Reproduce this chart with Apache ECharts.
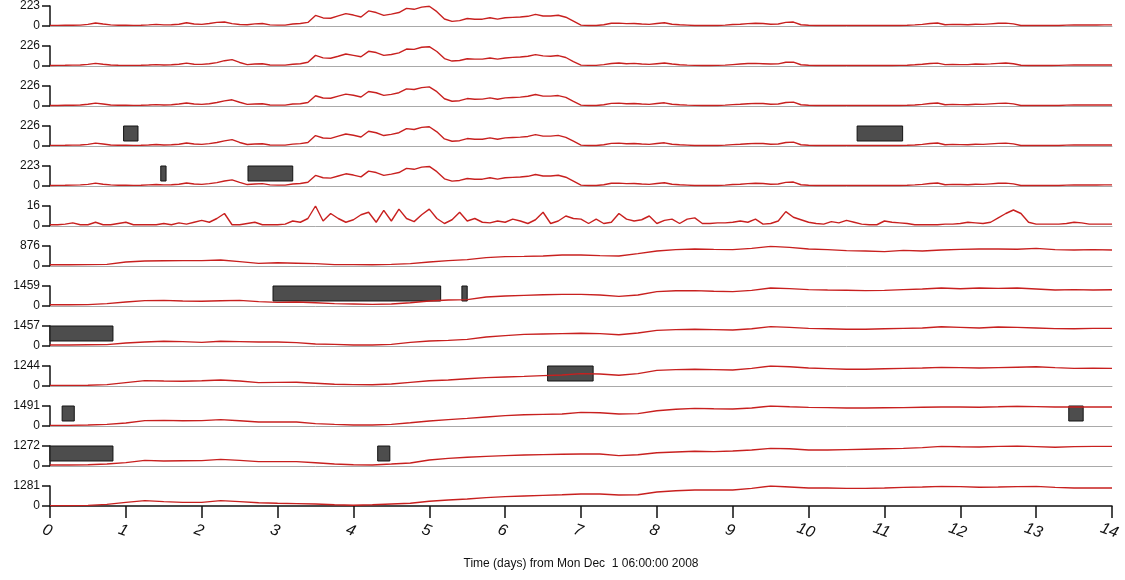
<!DOCTYPE html>
<html>
<head>
<meta charset="utf-8">
<title>Stacked panels</title>
<script src="https://cdn.jsdelivr.net/npm/echarts@6/dist/echarts.min.js"></script>
<style>
  html, body { margin: 0; padding: 0; background: #fff; }
  #chart { width: 1125px; height: 580px; }
</style>
</head>
<body>
<div id="chart"></div>
<script>
// top tick of each panel, top to bottom
var panelMax = [223, 226, 226, 226, 223, 16, 876, 1459, 1457, 1244, 1491, 1272, 1281];
var xTitle = 'Time (days) from Mon Dec  1 06:00:00 2008';

// days between samples
var fineStep = 0.1;    // panels 1-6
var coarseStep = 0.25; // panels 7-13

var p1 = [7,7,8,9,10,18,34,22,12,8, 8,7,8,12,18,12,14,20,36,22, 18,28,40,44,26,16,14,24,28,12,
  10,10,22,28,40,118,90,86,112,138, 122,100,168,150,118,132,150,196,186,210, 220,160,78,52,60,84,76,76,92,76,
  92,96,100,108,130,112,112,120,98,54, 10,6,6,14,30,32,26,28,22,18, 28,36,20,14,10,6,5,5,6,10,
  16,20,26,30,28,20,22,40,44,14, 8,6,5,5,5,5,5,5,5,5, 5,5,6,8,12,18,28,34,14,18,
  16,14,20,18,24,30,32,24,6,5, 5,5,5,6,10,12,11,12,11,12, 12];
var p2 = [6,7,8,10,12,18,30,20,12,8, 7,7,9,12,16,12,14,20,32,20, 18,26,38,60,72,40,16,22,26,12,
  10,10,20,26,42,120,92,88,110,136, 120,104,166,152,120,130,148,192,188,212, 218,164,84,56,62,82,78,78,90,78,
  90,98,102,110,128,114,110,118,96,50, 10,7,7,16,28,34,26,30,22,18, 26,34,22,14,10,7,6,6,7,10,
  16,22,28,30,26,22,24,42,44,14, 8,6,6,5,5,5,5,5,6,6, 5,6,7,9,14,20,28,32,16,18,
  16,16,22,20,24,30,34,26,8,6, 6,5,5,7,10,12,12,13,12,12, 12];
var p3 = [6,6,8,9,12,20,32,22,12,8, 8,7,8,11,16,12,14,22,34,22, 18,26,40,58,70,42,18,22,26,12,
  10,10,22,26,40,116,90,88,112,134, 122,102,164,150,120,132,150,194,186,208, 216,162,82,54,60,84,76,78,92,76,
  92,96,100,110,130,112,112,118,98,52, 10,6,6,14,30,32,26,28,22,18, 28,36,20,14,10,7,5,5,6,10,
  16,20,26,30,28,20,22,40,44,14, 8,6,5,5,5,5,5,5,5,5, 5,5,6,8,12,18,28,34,14,18,
  16,14,20,18,24,30,32,24,6,5, 5,5,5,6,10,12,11,12,11,12, 12];
var p4 = [7,7,8,10,12,18,32,22,12,8, 8,7,8,12,17,12,14,20,34,22, 18,27,40,58,72,40,17,22,26,12,
  10,10,21,27,40,118,90,86,112,136, 122,102,166,150,118,132,150,196,186,210, 218,160,80,54,60,84,76,76,92,76,
  92,96,100,108,128,112,112,120,98,54, 10,6,6,14,30,32,26,28,22,18, 28,36,20,14,10,6,5,5,6,10,
  16,20,26,30,28,20,22,40,44,14, 8,6,5,5,5,5,5,5,5,5, 5,5,6,8,12,18,28,34,14,18,
  16,14,20,18,24,30,32,24,6,5, 5,5,5,6,10,12,11,12,11,12, 12];
var p5 = [6,7,8,10,12,18,32,20,12,8, 8,7,8,12,16,12,14,20,34,22, 18,26,38,56,68,40,16,22,26,12,
  10,10,22,28,42,118,92,88,112,136, 122,102,166,150,118,132,150,196,186,210, 218,160,80,54,62,84,76,76,92,76,
  92,96,100,108,128,112,112,120,98,54, 10,6,6,14,30,32,26,28,22,18, 28,36,20,14,10,6,5,5,6,10,
  16,20,26,30,28,20,22,40,44,14, 8,6,5,5,5,5,5,5,5,5, 5,5,6,8,12,18,28,34,14,18,
  16,14,20,18,24,30,32,24,6,5, 5,5,5,6,10,12,11,12,11,12, 12];
var p6 = [1,1,1.5,2.5,1,1,3,1,1,2, 3,1,1,1,1,2,1,2.5,1.5,3, 4.5,3,6,10,1,1,2,3,1,1,
  1,1.5,4,3,6,16,4,10,6,3, 5,9,11,3,12.5,4,13.5,6,3.5,9, 13.5,6,2,5,11,4,6,3,2.5,4,
  3,5.5,4,2,5,11,2,4,8,6, 5.5,2,5.5,2,3,10,5.5,4,5,8, 2,4.5,5.5,2,5.5,6.5,2,2,2.5,2.5,
  3,4,3,5.5,1.5,2,4,11.5,7,5, 3,2,1.5,3.5,2.5,4.5,3,1.5,1,1, 4,3,2.5,2,1,1,1,1,1.5,1.5,
  2,3,2.5,2,3,6.5,10,12.8,10,3, 1.5,1.5,1.5,1.5,2,3,2.5,1.5,1.5,1.5, 1.5];
var p7 = [53,53,61,70, 175,219,228,237, 237,263,193,114, 140,123,105,61, 61,53,70,105,
  175,237,280,368, 412,420,438,482, 482,456,438,543, 657,718,745,727, 718,771,858,815,
  745,718,675,657, 631,683,657,701, 727,745,745,736, 771,718,701,718, 701];
var p8 = [88,88,102,175, 292,394,409,365, 350,379,409,321, 263,292,233,175, 146,117,146,233,
  365,438,467,657, 730,773,817,846, 846,802,700,802, 1050,1109,1123,1080, 1050,1138,1313,1269,
  1196,1167,1153,1123, 1138,1196,1240,1313, 1255,1313,1284,1313, 1240,1167,1196,1167, 1182];
var p9 = [73,73,87,102, 219,291,350,321, 262,350,321,291, 291,248,146,117, 73,73,117,262,
  364,408,481,656, 758,845,874,903, 932,903,816,947, 1136,1195,1224,1195, 1166,1253,1413,1355,
  1282,1253,1224,1224, 1253,1282,1311,1399, 1355,1311,1384,1355, 1311,1268,1253,1282, 1282];
var p10 = [37,37,50,87, 211,336,311,299, 323,373,311,211, 224,236,174,112, 87,75,124,224,
  323,373,448,522, 560,597,647,684, 771,746,672,771, 970,1020,1045,1020, 995,1095,1244,1194,
  1120,1082,1045,1045, 1070,1095,1120,1157, 1144,1120,1144,1169, 1194,1144,1095,1107, 1095];
var p11 = [45,45,75,119, 224,403,417,388, 403,477,388,298, 298,298,179,119, 75,75,119,239,
  373,477,567,671, 775,835,865,895, 1014,984,895,924, 1133,1252,1312,1282, 1267,1342,1491,1431,
  1387,1372,1342,1342, 1357,1372,1402,1416, 1416,1402,1431,1476, 1446,1416,1416,1416, 1416];
var p12 = [64,64,76,127, 216,356,318,331, 343,420,356,280, 280,280,204,127, 76,64,127,191,
  382,483,560,611, 661,700,725,750, 763,763,661,712, 840,890,941,916, 954,1018,1119,1094,
  1018,1018,1043,1068, 1094,1119,1170,1247, 1221,1208,1247,1272, 1234,1196,1234,1247, 1247];
var p13 = [26,26,38,102, 231,346,282,231, 231,346,282,205, 179,154,128,77, 51,77,128,179,
  307,384,448,538, 602,640,679,717, 768,768,705,717, 897,974,1025,1025, 1025,1127,1281,1217,
  1153,1153,1127,1127, 1153,1191,1217,1255, 1243,1204,1217,1243, 1255,1191,1153,1153, 1153];

var panelData = [p1, p2, p3, p4, p5, p6, p7, p8, p9, p10, p11, p12, p13];
var panelStep = [fineStep, fineStep, fineStep, fineStep, fineStep, fineStep,
  coarseStep, coarseStep, coarseStep, coarseStep, coarseStep, coarseStep, coarseStep];

// missing-data blocks: panel index, start day, end day
var gapPanel = [3, 3, 4, 4, 7, 7, 8, 9, 10, 10, 11, 11];
var gapStart = [0.97, 10.64, 1.46, 2.61, 2.94, 5.43, 0, 6.56, 0.16, 13.43, 0, 4.32];
var gapEnd   = [1.16, 11.24, 1.53, 3.20, 5.15, 5.50, 0.83, 7.16, 0.32, 13.62, 0.83, 4.48];

var font = '"Liberation Sans", Arial, sans-serif';
var n = panelMax.length;
var grids = [], xAxes = [], yAxes = [], series = [];

for (var i = 0; i < n; i++) {
  var last = (i === n - 1);
  grids.push({ left: 50, right: 13, top: 6 + 40 * i, height: 20 });

  xAxes.push({
    type: 'value', gridIndex: i, min: 0, max: 14, interval: 1,
    axisLine: { show: true, lineStyle: { color: last ? '#111' : '#a9a9a9', width: last ? 1.5 : 1 } },
    axisTick: { show: last, length: 12, lineStyle: { color: '#111', width: 1.5 } },
    axisLabel: {
      show: last, fontFamily: font, fontSize: 16, fontStyle: 'italic', color: '#111',
      rotate: -20, margin: 17, align: 'center', verticalAlign: 'top'
    },
    splitLine: { show: false },
    name: last ? xTitle : '',
    nameLocation: 'middle', nameGap: 52,
    nameTextStyle: { fontFamily: font, fontSize: 12, color: '#111' }
  });

  yAxes.push({
    type: 'value', gridIndex: i, min: 0, max: panelMax[i], interval: panelMax[i],
    axisLine: { show: true, lineStyle: { color: '#111', width: 1.5 } },
    axisTick: { show: true, length: 8, lineStyle: { color: '#111', width: 1.5 } },
    axisLabel: {
      fontFamily: font, fontSize: 12, color: '#111', margin: 10,
      formatter: function (v) { return String(v); }
    },
    splitLine: { show: false }
  });

  var pts = [];
  for (var k = 0; k < panelData[i].length; k++) {
    pts.push([+(k * panelStep[i]).toFixed(2), panelData[i][k]]);
  }

  var areas = [];
  for (var g = 0; g < gapPanel.length; g++) {
    if (gapPanel[g] !== i) continue;
    areas.push([{ coord: [gapStart[g], panelMax[i] * 0.25] }, { coord: [gapEnd[g], panelMax[i]] }]);
  }

  series.push({
    type: 'line', xAxisIndex: i, yAxisIndex: i, data: pts,
    showSymbol: false, animation: false, silent: true,
    lineStyle: { color: '#c8201f', width: 1.4 },
    markArea: {
      silent: true,
      itemStyle: { color: '#4d4d4d', borderColor: '#141414', borderWidth: 1, opacity: 1 },
      data: areas
    }
  });
}

var chart = echarts.init(document.getElementById('chart'));
chart.setOption({
  backgroundColor: '#fff',
  animation: false,
  grid: grids,
  xAxis: xAxes,
  yAxis: yAxes,
  series: series
});
</script>
</body>
</html>
